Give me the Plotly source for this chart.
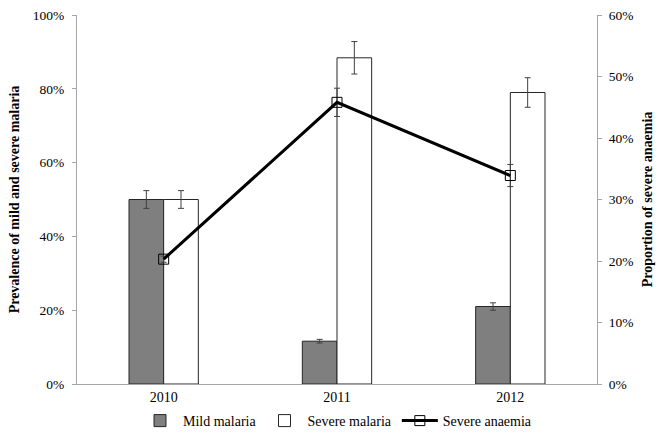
import plotly.graph_objects as go

years = ["2010", "2011", "2012"]
mild_malaria = [0.50, 0.116, 0.21]
mild_err = [0.024, 0.005, 0.01]
severe_malaria = [0.50, 0.884, 0.79]
severe_err = [0.024, 0.044, 0.04]
severe_anaemia = [0.203, 0.458, 0.339]
anaemia_err = [0.005, 0.023, 0.018]

FONT = "Liberation Serif, Times New Roman, serif"
AXIS_GREY = "#a6a6a6"

fig = go.Figure()
fig.add_trace(go.Bar(
    x=years, y=mild_malaria, name="Mild malaria",
    marker=dict(color="#7f7f7f", line=dict(color="#262626", width=1)),
    error_y=dict(type="data", array=mild_err, color="#404040", thickness=1, width=3),
))
fig.add_trace(go.Bar(
    x=years, y=severe_malaria, name="Severe malaria",
    marker=dict(color="#ffffff", line=dict(color="#262626", width=1)),
    error_y=dict(type="data", array=severe_err, color="#404040", thickness=1, width=3),
))
fig.add_trace(go.Scatter(
    x=years, y=severe_anaemia, name="Severe anaemia", yaxis="y2",
    mode="lines+markers",
    line=dict(color="#000000", width=3),
    marker=dict(symbol="square-open", size=10, color="#000000", line=dict(width=1)),
    error_y=dict(type="data", array=anaemia_err, color="#404040", thickness=1, width=3),
))

fig.update_layout(
    width=665, height=440,
    margin=dict(l=77, r=68, t=15, b=56, autoexpand=False),
    paper_bgcolor="white", plot_bgcolor="white",
    font=dict(family=FONT, size=14, color="#000000"),
    barmode="group", bargap=0.6, bargroupgap=0,
    showlegend=True,
    legend=dict(orientation="h", x=0.5, xanchor="center", xref="paper",
                y=1 - 421 / 440, yanchor="middle", yref="container",
                font=dict(family=FONT, size=14), itemwidth=36),
    xaxis=dict(showline=True, linecolor=AXIS_GREY, linewidth=1, ticks="",
               showgrid=False, tickfont=dict(size=14), automargin=False),
    yaxis=dict(range=[0, 1], dtick=0.2, tickformat=".0%", showline=True,
               linecolor=AXIS_GREY, linewidth=1, ticks="outside", ticklen=4,
               tickcolor=AXIS_GREY, showgrid=False, zeroline=False,
               ticklabelstandoff=5, automargin=False, tickfont=dict(size=13.5),
               title=dict(text="<b>Prevalence of mild and severe malaria</b>",
                          font=dict(size=14), standoff=9)),
    yaxis2=dict(range=[0, 0.6], dtick=0.1, tickformat=".0%", overlaying="y",
                side="right", showline=True, linecolor=AXIS_GREY, linewidth=1,
                ticks="outside", ticklen=4, tickcolor=AXIS_GREY, showgrid=False,
                zeroline=False, ticklabelstandoff=4, automargin=False,
                tickfont=dict(size=13.5),
                title=dict(text="<b>Proportion of severe anaemia</b>",
                           font=dict(size=14), standoff=9)),
)

fig.write_html("out.html")
